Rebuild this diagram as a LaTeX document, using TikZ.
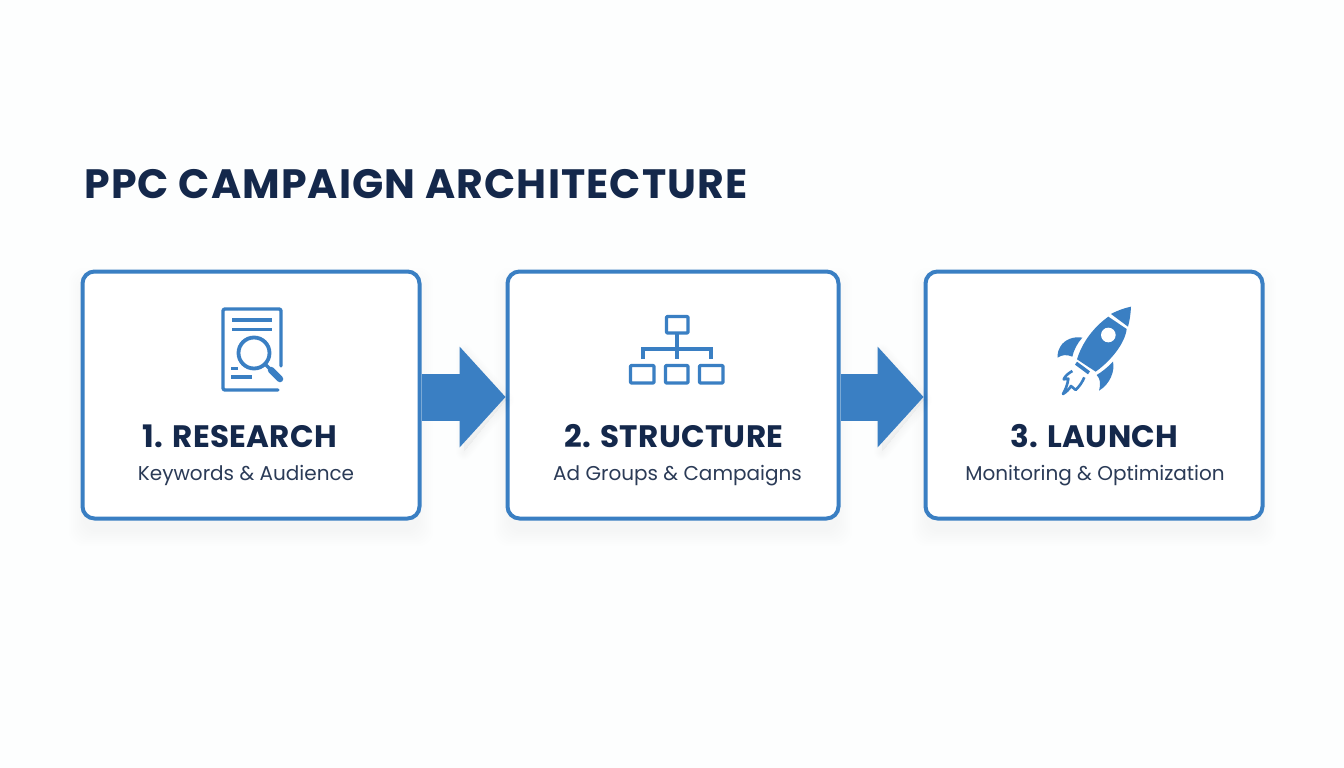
\documentclass[tikz,border=0pt]{standalone}
\usepackage{fontspec}
\setmainfont{Poppins}
\newfontfamily\headfont[LetterSpace=2.7]{Poppins}
\newfontfamily\stepfont[LetterSpace=1]{Poppins}
\usetikzlibrary{arrows.meta}
\definecolor{brand}{HTML}{3A7FC3}
\definecolor{ink}{HTML}{14284B}
\definecolor{subink}{HTML}{2B3B57}
\definecolor{paper}{HTML}{FDFEFE}
\tikzset{
  stagebox/.style={draw=brand,line width=4pt,rounded corners=12pt,fill=white,minimum height=247pt,inner sep=0pt},
  headline/.style={text=ink,font=\fontsize{41}{41}\selectfont\headfont\bfseries,inner sep=0pt,anchor=base},
  steptitle/.style={text=ink,font=\fontsize{31}{31}\selectfont\stepfont\bfseries,inner sep=0pt,anchor=base},
  stepsub/.style={text=subink,font=\fontsize{20}{20}\selectfont,inner sep=0pt,anchor=base},
  flowarrow/.style={draw=brand,line width=47pt,-{Triangle[length=46pt,width=101pt,fill=brand,line width=0pt]}},
  iconline/.style={draw=brand,line width=3.4pt,line cap=round,line join=round},
}
\newcommand{\softshadow}[4]{%
  \foreach \s in {2,4,...,16}{%
    \fill[black,opacity=0.004,rounded corners=14pt] (#1-\s+4,#2-\s+14) rectangle (#3+\s-4,#4+\s+10);
  }}
\begin{document}
\begin{tikzpicture}[x=1pt,y=-1pt]
\useasboundingbox (0,0) rectangle (1344,768);
\fill[paper] (0,0) rectangle (1344,768);

\softshadow{81}{270}{421}{520}
\softshadow{506}{270}{840}{520}
\softshadow{924}{270}{1264}{520}

\node[stagebox,minimum width=337pt] (a) at (251,395) {};
\node[stagebox,minimum width=331pt] (b) at (673,395) {};
\node[stagebox,minimum width=337pt] (c) at (1094,395) {};

\node[headline] (title) at (416,198) {PPC CAMPAIGN ARCHITECTURE};

\node[steptitle] (t1) at (240,447.5) {1. RESEARCH};
\node[stepsub] (s1) at (246,480.5) {Keywords \& Audience};
\node[steptitle] (t2) at (674,447.5) {2. STRUCTURE};
\node[stepsub] (s2) at (677.5,480.5) {Ad Groups \& Campaigns};
\node[steptitle] (t3) at (1094.5,447.5) {3. LAUNCH};
\node[stepsub] (s3) at (1095,480.5) {Monitoring \& Optimization};

% arrow shadows
\foreach \s in {2,4,...,16}{
  \fill[black,opacity=0.004,line join=round,draw=black,line width=\s pt] (464,352) -- (506,400) -- (464,452) -- cycle;
  \fill[black,opacity=0.004,line join=round,draw=black,line width=\s pt] (882,352) -- (924,400) -- (882,452) -- cycle;
}

\draw[flowarrow] ([yshift=-2pt]a.east) -- ([yshift=-2pt]b.west);
\draw[flowarrow] ([yshift=-2pt]b.east) -- ([yshift=-2pt]c.west);

% icon 1: document with magnifier
\draw[iconline] (281,366) -- (281,311) arc[start angle=0,end angle=-90,radius=2] -- (225,309) arc[start angle=-90,end angle=-180,radius=2] -- (223,388) arc[start angle=180,end angle=90,radius=2] -- (278,390);
\draw[iconline,line cap=butt] (232,320) -- (272,320);
\draw[iconline,line cap=butt] (232,329.5) -- (272,329.5);
\draw[iconline,line cap=butt] (231,368.5) -- (238,368.5);
\draw[iconline,line cap=butt] (231,377) -- (252,377);
\draw[fill=white,draw=brand,line width=3.8pt] (254,353) circle[radius=15.5];
\draw[iconline,line cap=butt] (265,364) -- (270,369);
\draw[iconline,line width=6.5pt] (271,370) -- (280,379);

% icon 2: hierarchy
\draw[iconline,line cap=butt,rounded corners=1pt] (666.5,316.5) rectangle (688,333);
\draw[iconline,line cap=butt] (677,334) -- (677,359);
\draw[iconline,line cap=butt,line join=miter] (643,359) -- (643,349) -- (711,349) -- (711,359);
\draw[iconline,line cap=butt,rounded corners=1pt] (630.5,365.5) rectangle (654,383);
\draw[iconline,line cap=butt,rounded corners=1pt] (665.5,365.5) rectangle (688,383);
\draw[iconline,line cap=butt,rounded corners=1pt] (699.5,365.5) rectangle (723,383);

% icon 3: rocket
\begin{scope}[shift={(1045,300)},scale=1/3]
  \fill[brand] (198,42) .. controls (220,30) and (240,24) .. (258,20) .. controls (257,42) and (254,62) .. (249,80) -- cycle;
  \fill[brand] (190,50) -- (245,87) .. controls (240,130) and (198,182) .. (152,215) -- (96,178) .. controls (112,125) and (148,80) .. (190,50) -- cycle;
  \fill[white] (190,105) circle[radius=22];
  \fill[brand] (96,185) -- (135,214) -- (129,223) -- (90,194) -- cycle;
  \fill[brand] (112,113) .. controls (88,108) and (58,118) .. (46,140) .. controls (40,150) and (37,160) .. (38,173) .. controls (50,164) and (66,163) .. (82,170) .. controls (86,150) and (98,128) .. (112,113) -- cycle;
  \fill[brand] (204,185) .. controls (210,212) and (196,252) .. (162,272) .. controls (168,250) and (165,235) .. (155,225) .. controls (172,215) and (190,200) .. (204,185) -- cycle;
  \draw[brand,line width=2.6pt,line join=round,fill=white] (82,213) .. controls (70,220) and (60,228) .. (56,238) -- (70,236) .. controls (68,252) and (62,268) .. (54,282) .. controls (64,276) and (72,268) .. (78,258) -- (92,270) .. controls (104,258) and (112,246) .. (118,232);
\end{scope}
\end{tikzpicture}
\end{document}
